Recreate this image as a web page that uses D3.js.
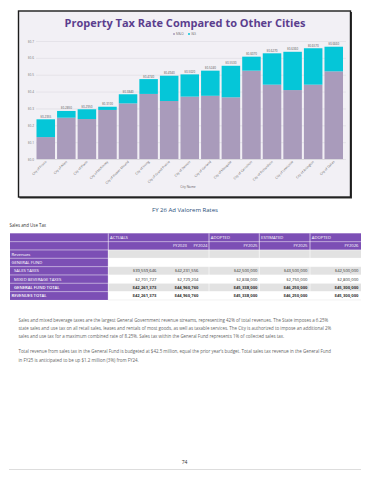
<!DOCTYPE html>
<html>
<head>
<meta charset="utf-8">
<script src="https://cdn.jsdelivr.net/npm/d3@7"></script>
<style>
  body { margin: 0; background: #fff; }
  svg { display: block; }
  text { font-family: 'Open Sans', sans-serif; }
</style>
</head>
<body>
<svg id="page"></svg>
<script>
const W = 370
const H = 480

// chart data
const cities = ['City of Frisco', 'City of Allen', 'City of Plano', 'City of McKinney', 'City of Flower Mound',
  'City of Irving', 'City of Grand Prairie', 'City of Denton', 'City of Garland', 'City of Mesquite',
  'City of Carrollton', 'City of Richardson', 'City of Lewisville', 'City of Arlington', 'City of Dallas']
const moRate = [0.1300, 0.2450, 0.2370, 0.2910, 0.3300, 0.3860, 0.3440, 0.3700, 0.3750, 0.3660, 0.5240, 0.4410, 0.4090, 0.4410, 0.5200]
const isRate = [0.1055, 0.0400, 0.0580, 0.0190, 0.0540, 0.0880, 0.1500, 0.1320, 0.1490, 0.1870, 0.0830, 0.1860, 0.2270, 0.2160, 0.1460]
const yTicks = [0, 0.1, 0.2, 0.3, 0.4, 0.5, 0.6, 0.7]
const seriesKeys = ['mo', 'is']
const seriesNames = ['M&O', 'I&S']
const seriesColors = ['#a99bbb', '#05c6d8']

// table data
const groupHeads = ['ACTUALS', 'ADOPTED', 'ESTIMATED', 'ADOPTED']
const yearHeads = ['FY2023', 'FY2024', 'FY2025', 'FY2025', 'FY2026']
const rowLabels = ['Revenues', 'GENERAL FUND', 'SALES TAXES', 'MIXED BEVERAGE TAXES', 'GENERAL FUND TOTAL', 'REVENUES TOTAL']
const salesTaxes = ['$39,559,646', '$42,231,556', '$42,500,000', '$43,500,000', '$42,500,000']
const mixedBev = ['$2,701,727', '$2,729,204', '$2,838,000', '$2,750,000', '$2,800,000']
const gfTotal = ['$42,261,373', '$44,960,760', '$45,338,000', '$46,250,000', '$45,300,000']
const revTotal = ['$42,261,373', '$44,960,760', '$45,338,000', '$46,250,000', '$45,300,000']

const para1 = [
  'Sales and mixed beverage taxes are the largest General Government revenue streams, representing 42% of total revenues.  The State imposes a 6.25%',
  'state sales and use tax on all retail sales, leases and rentals of most goods, as well as taxable services.  The City is authorized to impose an additional 2%',
  'sales and use tax for a maximum combined rate of 8.25%.  Sales tax within the General Fund represents 1% of collected sales tax.'
]
const para2 = [
  'Total revenue from sales tax in the General Fund is budgeted at $42.5 million, equal the prior year\u2019s budget. Total sales tax revenue in the General Fund',
  'in FY25 is anticipated to be up $1.2 million (3%) from FY24.'
]

const svg = d3.select('#page').attr('width', W).attr('height', H)

// ---- chart frame ----
svg.append('rect').attr('x', 19.5).attr('y', 12).attr('width', 332.5).attr('height', 186.5).attr('fill', '#333')
svg.append('rect')
  .attr('x', 18.5).attr('y', 11)
  .attr('width', 332).attr('height', 186)
  .attr('fill', '#f2f0f5')
  .attr('stroke', '#1c1c1c')
  .attr('stroke-width', 1.4)

svg.append('text')
  .attr('x', 185).attr('y', 26.5)
  .attr('text-anchor', 'middle')
  .attr('font-size', 11)
  .attr('font-weight', 700)
  .attr('fill', '#5b3e8e')
  .text('Property Tax Rate Compared to Other Cities')

// legend
const legend = svg.append('g').attr('transform', 'translate(174, 35)')
seriesNames.forEach((n, i) => {
  const g = legend.append('g').attr('transform', `translate(${i * 15}, 0)`)
  g.append('circle').attr('r', 1).attr('cy', -1).attr('fill', seriesColors[i])
  g.append('text').attr('x', 2).attr('font-size', 3.2).attr('fill', '#777').text(n)
})

const x = d3.scaleBand().domain(cities).range([36.5, 343]).paddingInner(0.1).paddingOuter(0)
const y = d3.scaleLinear().domain([0, 0.7]).range([159, 41])

const yAxis = d3.axisLeft(y)
  .tickValues(yTicks)
  .tickSize(-(346 - 36))
  .tickPadding(2)
  .tickFormat(d => '$' + d.toFixed(1))

const gy = svg.append('g').attr('transform', 'translate(36, 0)').call(yAxis)
gy.select('.domain').remove()
gy.selectAll('line').attr('stroke', '#d9d7dd').attr('stroke-width', 0.5)
gy.selectAll('text').attr('font-size', 3.2).attr('fill', '#777')

const rows = cities.map((c, i) => ({ city: c, mo: moRate[i], is: isRate[i] }))
const stacked = d3.stack().keys(seriesKeys)(rows)

svg.append('g').selectAll('g')
  .data(stacked)
  .join('g')
  .attr('fill', (d, i) => seriesColors[i])
  .selectAll('rect')
  .data(d => d)
  .join('rect')
  .attr('x', d => x(d.data.city))
  .attr('y', d => y(d[1]))
  .attr('width', x.bandwidth())
  .attr('height', d => y(d[0]) - y(d[1]))

// value labels
svg.append('g').selectAll('text')
  .data(rows)
  .join('text')
  .attr('x', d => x(d.city) + x.bandwidth() / 2)
  .attr('y', d => y(d.mo + d.is) - 1.5)
  .attr('text-anchor', 'middle')
  .attr('font-size', 3)
  .attr('fill', '#555')
  .text(d => '$' + (d.mo + d.is).toFixed(4))

const xAxis = d3.axisBottom(x).tickSize(0).tickPadding(0)
const gx = svg.append('g').attr('transform', 'translate(0, 159)').call(xAxis)
gx.select('.domain').attr('stroke', '#cfcdd3').attr('stroke-width', 0.5)
gx.selectAll('text')
  .attr('font-size', 3.2)
  .attr('fill', '#666')
  .attr('text-anchor', 'end')
  .attr('dy', 0)
  .attr('transform', 'translate(1, 3) rotate(-45)')

svg.append('text')
  .attr('x', 188).attr('y', 188)
  .attr('text-anchor', 'middle')
  .attr('font-size', 3.2)
  .attr('fill', '#666')
  .text('City Name')

// caption
svg.append('text')
  .attr('x', 185).attr('y', 212)
  .attr('text-anchor', 'middle')
  .attr('font-size', 6)
  .attr('font-family', 'Liberation Sans, Arial, sans-serif')
  .attr('fill', '#1f4e79')
  .text('FY 26 Ad Valorem Rates')

svg.append('text')
  .attr('x', 9.5).attr('y', 227)
  .attr('font-size', 4.4)
  .attr('fill', '#333')
  .text('Sales and Use Tax')

// ---- table ----
const purple = '#7c4fb5'
const tTop = 233.3
const rh = 8.33
const tLeft = 10
const tRight = 361
const labelW = 108.3
const groupX = [108.3, 209, 259.3, 310]
const headRight = [187, 207.5, 257.5, 307.5, 358.5]
const valRight = [156.5, 198.5, 257.5, 307.5, 358.5]

const t = svg.append('g')
t.append('rect').attr('x', tLeft).attr('y', tTop).attr('width', tRight - tLeft).attr('height', rh * 2).attr('fill', purple)
t.append('rect').attr('x', tLeft).attr('y', tTop + rh * 2).attr('width', labelW - tLeft).attr('height', rh * 6).attr('fill', purple)

const dataRows = [null, null, salesTaxes, mixedBev, gfTotal, revTotal]
const rowFill = ['#e2e2e2', '#ffffff', '#e2e2e2', '#ffffff', '#e2e2e2', '#ffffff']

t.selectAll('.bg')
  .data(rowLabels)
  .join('rect')
  .attr('class', 'bg')
  .attr('x', labelW)
  .attr('y', (d, i) => tTop + rh * (i + 2))
  .attr('width', tRight - labelW)
  .attr('height', rh)
  .attr('fill', (d, i) => rowFill[i])

// separators
t.selectAll('.vsep')
  .data(groupX)
  .join('line')
  .attr('x1', d => d).attr('x2', d => d)
  .attr('y1', tTop).attr('y2', tTop + rh * 8)
  .attr('stroke', '#fff').attr('stroke-width', 0.6)
t.selectAll('.hsep')
  .data(d3.range(1, 8))
  .join('line')
  .attr('x1', tLeft).attr('x2', tRight)
  .attr('y1', d => tTop + rh * d).attr('y2', d => tTop + rh * d)
  .attr('stroke', '#fff').attr('stroke-width', 0.5)
t.append('line')
  .attr('x1', labelW).attr('x2', tRight)
  .attr('y1', tTop + rh * 8).attr('y2', tTop + rh * 8)
  .attr('stroke', '#e6e6e6').attr('stroke-width', 0.5)

t.selectAll('.gh')
  .data(groupHeads)
  .join('text')
  .attr('x', (d, i) => groupX[i] + 1.8)
  .attr('y', tTop + rh / 2 + 1.5)
  .attr('font-size', 4.2)
  .attr('fill', '#fff')
  .text(d => d)

t.selectAll('.yh')
  .data(yearHeads)
  .join('text')
  .attr('x', (d, i) => headRight[i])
  .attr('y', tTop + rh * 1.5 + 1.5)
  .attr('text-anchor', 'end')
  .attr('font-size', 4.2)
  .attr('fill', '#fff')
  .text(d => d)

t.selectAll('.rl')
  .data(rowLabels)
  .join('text')
  .attr('x', (d, i) => (i >= 2 && i <= 4) ? 14 : 11.5)
  .attr('y', (d, i) => tTop + rh * (i + 2.5) + 1.5)
  .attr('font-size', 4.2)
  .attr('fill', '#fff')
  .attr('font-weight', (d, i) => i >= 4 ? 600 : 400)
  .text(d => d)

dataRows.forEach((vals, r) => {
  if (!vals) return
  t.append('g').selectAll('text')
    .data(vals)
    .join('text')
    .attr('x', (d, i) => valRight[i])
    .attr('y', tTop + rh * (r + 2.5) + 1.5)
    .attr('text-anchor', 'end')
    .attr('font-size', 4.2)
    .attr('font-weight', r >= 4 ? 700 : 400)
    .attr('fill', '#333')
    .text(d => d)
})

// ---- body text ----
const body = svg.append('g').attr('font-size', 4.45).attr('fill', '#666')
body.selectAll('.p1')
  .data(para1)
  .join('text')
  .attr('x', 18.5)
  .attr('y', (d, i) => 321.5 + i * 8.2)
  .text(d => d)
body.selectAll('.p2')
  .data(para2)
  .join('text')
  .attr('x', 18.5)
  .attr('y', (d, i) => 353 + i * 8.6)
  .text(d => d)

svg.append('text')
  .attr('x', 184.5).attr('y', 463.5)
  .attr('text-anchor', 'middle')
  .attr('font-size', 5)
  .attr('fill', '#333')
  .text('74')

svg.append('line')
  .attr('x1', 9).attr('x2', 361)
  .attr('y1', 469.5).attr('y2', 469.5)
  .attr('stroke', '#d4d4d4').attr('stroke-width', 0.8)
</script>
</body>
</html>
